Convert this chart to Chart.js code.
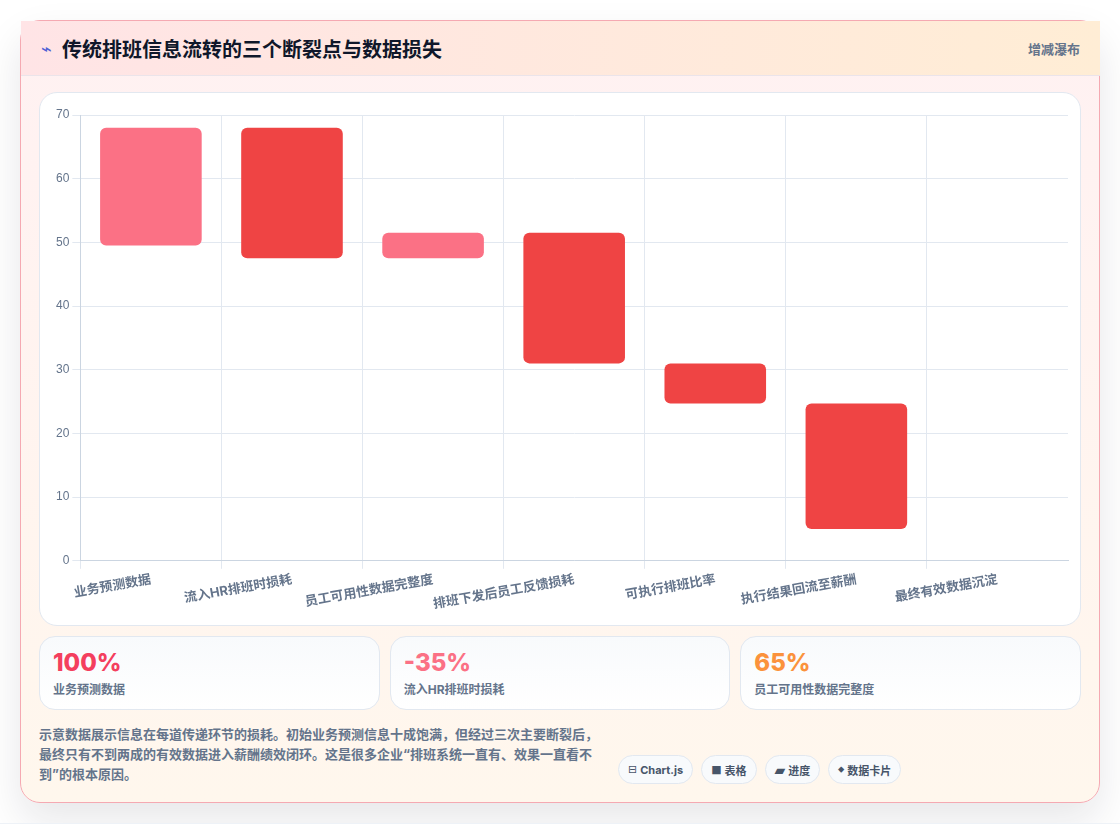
<!DOCTYPE html>
<html lang="zh-CN">
<head>
<meta charset="utf-8">
<title>传统排班信息流转的三个断裂点与数据损失</title>
<script src="https://cdn.jsdelivr.net/npm/chart.js@4"></script>
<style>
  * { box-sizing: border-box; }
  html, body { margin: 0; padding: 0; }
  body {
    width: 1120px; height: 824px; overflow: hidden;
    background: #fff;
    font-family: Inter, "Noto Sans CJK SC", sans-serif;
    position: relative;
  }
  body::after {
    content: ""; position: absolute; left: 0; right: 0; bottom: 0; height: 1px;
    background: #eef2f7;
  }
  .panel {
    position: absolute; left: 20px; top: 20px; width: 1080px; height: 783px;
    border: 1px solid #f5a9b2; border-radius: 20px;
    background: linear-gradient(180deg, #fff1f2 0%, #fff7ed 100%);
    box-shadow: 0 18px 40px rgba(15, 23, 42, 0.1);
  }
  .head {
    position: absolute; left: 0; top: 0; width: 1079px; height: 55px;
    background: linear-gradient(90deg, #ffe4e6 0%, #ffedd5 100%);
    border-bottom: 1px solid #ebe4ea;
    display: flex; align-items: center; justify-content: space-between;
    padding: 0 20px;
  }
  .head h1 { margin: 0; font-size: 20px; font-weight: 700; color: #0f172a; display: flex; align-items: center; }
  .head h1 i { font-style: normal; color: #4f5fd5; width: 21px; font-family: "DejaVu Sans"; font-size: 18px; font-weight: 400; }
  .head span { font-size: 13px; font-weight: 700; color: #64748b; }
  .chart-card {
    position: absolute; left: 18px; top: 71px; width: 1042px; height: 534px;
    background: #fff; border: 1px solid #e2e8f0; border-radius: 18px;
  }
  .chart-card canvas { position: absolute; left: 0; top: 0; }
  .stats { position: absolute; left: 18px; top: 615px; width: 1042px; display: flex; gap: 10px; }
  .stat {
    flex: 1; height: 74px; padding: 9px 13px;
    border: 1px solid #e2e8f0; border-radius: 16px;
    background: linear-gradient(180deg, #f8fafc 0%, #ffffff 100%);
  }
  .stat b { display: block; font-size: 24px; font-weight: 800; line-height: 34px; }
  .stat small { display: block; margin-top: 2px; font-size: 12px; font-weight: 700; color: #64748b; line-height: 16px; }
  .note {
    position: absolute; left: 18px; top: 703px; width: 560px;
    font-size: 13px; font-weight: 700; line-height: 20px; color: #64748b;
  }
  .pills { position: absolute; left: 597px; top: 734px; display: flex; gap: 8px; }
  .pill {
    height: 29px; padding: 0 9px; border: 1px solid #e2e8f0; border-radius: 15px;
    background: #f8fafc; color: #475569; font-size: 11px; font-weight: 700;
    display: flex; align-items: center; white-space: nowrap;
  }
  .pill i { font-style: normal; font-family: "DejaVu Sans"; color: #475569; margin-right: 3px; font-weight: 400; }
  .pill:nth-child(3) i { font-size: 14px; }
  .pill:nth-child(4) i { font-size: 9px; }
</style>
</head>
<body>
<div class="panel">
  <div class="head">
    <h1><i>⌁</i>传统排班信息流转的三个断裂点与数据损失</h1>
    <span>增减瀑布</span>
  </div>
  <div class="chart-card"><canvas id="waterfall"></canvas></div>
  <div class="stats" id="stats"></div>
  <div class="note">示意数据展示信息在每道传递环节的损耗。初始业务预测信息十成饱满，但经过三次主要断裂后，最终只有不到两成的有效数据进入薪酬绩效闭环。这是很多企业“排班系统一直有、效果一直看不到”的根本原因。</div>
  <div class="pills" id="pills"></div>
</div>
<script>
const categories = ['业务预测数据', '流入HR排班时损耗', '员工可用性数据完整度', '排班下发后员工反馈损耗', '可执行排班比率', '执行结果回流至薪酬', '最终有效数据沉淀'];
const barLow = [49.5, 47.5, 47.5, 31, 24.7, 5, null];
const barHigh = [68, 68, 51.5, 51.5, 31, 24.7, null];
const barColors = ['#fb7185', '#ef4444', '#fb7185', '#ef4444', '#ef4444', '#ef4444', '#ef4444'];

const statValues = ['100%', '-35%', '65%'];
const statLabels = ['业务预测数据', '流入HR排班时损耗', '员工可用性数据完整度'];
const statColors = ['#f43f5e', '#fb7185', '#fb923c'];
const pillIcons = ['⊟', '■', '▰', '⬥'];
const pillLabels = ['Chart.js', '表格', '进度', '数据卡片'];

document.getElementById('stats').innerHTML = statValues.map((v, i) =>
  `<div class="stat"><b style="color:${statColors[i]}">${v}</b><small>${statLabels[i]}</small></div>`).join('');
document.getElementById('pills').innerHTML = pillLabels.map((p, i) =>
  `<div class="pill"><i>${pillIcons[i]}</i>${p}</div>`).join('');

const canvas = document.getElementById('waterfall');
canvas.width = 1040;
canvas.height = 532;

// the closing grid line on the right has no tick of its own, so it stays hidden
const gridColor = ctx => ctx.tick ? '#e2e8f0' : 'transparent';

new Chart(canvas, {
  type: 'bar',
  data: {
    labels: categories,
    datasets: [{
      data: barLow.map((low, i) => low === null ? null : [low, barHigh[i]]),
      backgroundColor: barColors,
      borderRadius: 6,
      borderSkipped: false
    }]
  },
  options: {
    responsive: false,
    animation: false,
    layout: { padding: { top: 22, right: 12, left: 13, bottom: 10 } },
    plugins: { legend: { display: false }, tooltip: { enabled: false } },
    scales: {
      x: {
        grid: { color: gridColor },
        border: { color: '#cbd5e1' },
        ticks: {
          color: '#64748b', minRotation: 10, maxRotation: 10,
          font: { family: 'Inter, "Noto Sans CJK SC", sans-serif', size: 13, weight: '700' }
        }
      },
      y: {
        min: 0, max: 70,
        grid: { color: '#e2e8f0' },
        border: { color: '#cbd5e1' },
        ticks: {
          stepSize: 10, color: '#64748b',
          font: { family: '"Liberation Sans", sans-serif', size: 12 }
        }
      }
    }
  }
});
</script>
</body>
</html>
